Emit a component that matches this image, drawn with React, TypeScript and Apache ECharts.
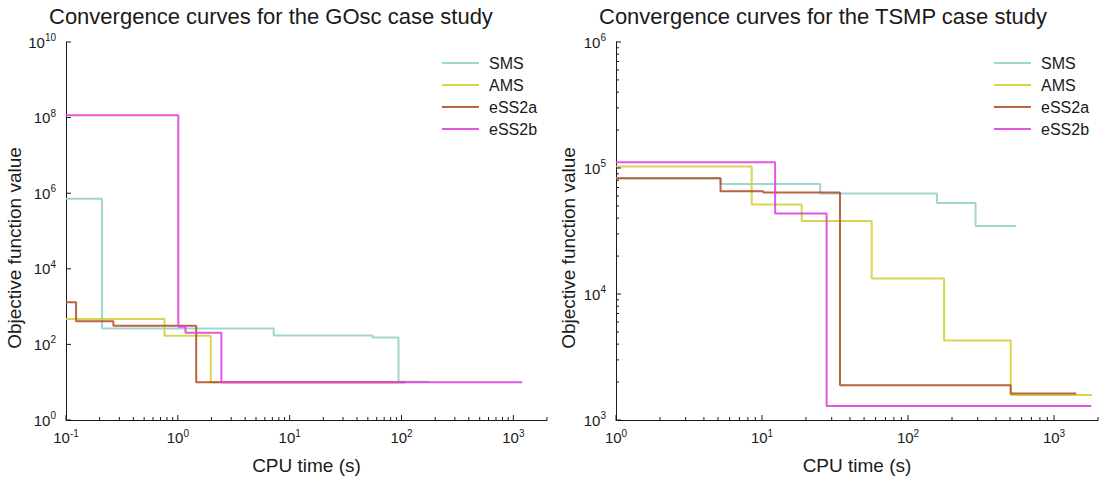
import React, { useEffect, useRef } from 'react';
import * as echarts from 'echarts';

// ---- Data ----
const seriesNames = ['SMS', 'AMS', 'eSS2a', 'eSS2b'];
const seriesColors = ['#93d2c9', '#d4d23e', '#b3532d', '#de45de'];

const titles = ['Convergence curves for the GOsc case study', 'Convergence curves for the TSMP case study'];
const xAxisName = 'CPU time (s)';
const yAxisName = 'Objective function value';

// GOsc case study
const goscSmsX = [0.1, 0.21, 7.2, 55, 94, 177];
const goscSmsY = [7.1e5, 263, 173, 153, 10.3, 10.3];
const goscAmsX = [0.1, 0.76, 1.97, 100];
const goscAmsY = [470, 170, 10, 10];
const goscEss2aX = [0.1, 0.123, 0.265, 1.46, 110];
const goscEss2aY = [1300, 410, 310, 10, 10];
const goscEss2bX = [0.1, 1.01, 1.17, 2.45, 1200];
const goscEss2bY = [1.15e8, 293, 203, 10, 10];

// TSMP case study
const tsmpSmsX = [1, 5.2, 25, 158, 290, 550];
const tsmpSmsY = [83000, 74600, 62700, 52800, 34600, 34600];
const tsmpAmsX = [1, 8.5, 18.7, 56.4, 176.5, 505, 1820];
const tsmpAmsY = [103000, 51400, 38000, 13300, 4270, 1580, 1580];
const tsmpEss2aX = [1, 5.2, 10.2, 34.2, 505, 1420];
const tsmpEss2aY = [83000, 65500, 64000, 1890, 1620, 1620];
const tsmpEss2bX = [1, 12.3, 27.7, 1800];
const tsmpEss2bY = [111000, 43600, 1290, 1290];

// Axis ranges
const goscXRange = [0.1, 2000];
const goscYRange = [1, 1e10];
const tsmpXRange = [1, 2000];
const tsmpYRange = [1000, 1e6];

const FONT = '"Liberation Sans", Arial, Helvetica, sans-serif';
const INK = '#1a1a1a';

function zip(xs: number[], ys: number[]) {
  return xs.map((x, i) => [x, ys[i]]);
}

function decadeTicks(min: number, max: number, withMinor: boolean, majorStep: number) {
  const out: number[][] = [];
  const lo = Math.floor(Math.log10(min));
  const hi = Math.ceil(Math.log10(max));
  for (let e = lo; e <= hi; e++) {
    const base = Math.pow(10, e);
    if (base >= min * 0.999 && base <= max * 1.001 && ((e - lo) % majorStep === 0)) out.push([base, 5]);
    if (withMinor) {
      for (let m = 2; m <= 9; m++) {
        const v = m * base;
        if (v >= min * 0.999 && v <= max * 1.001) out.push([v, 3]);
      }
    }
  }
  return out;
}

function tickSeries(idx: number, xr: number[], yr: number[], xTicks: number[][], yTicks: number[][]) {
  return {
    type: 'custom',
    name: 'ticks' + idx,
    xAxisIndex: idx,
    yAxisIndex: idx,
    silent: true,
    clip: false,
    z: 5,
    data: [
      ...xTicks.map((t) => [t[0], yr[0], 0, t[1]]),
      ...yTicks.map((t) => [xr[0], t[0], 1, t[1]]),
    ],
    renderItem: (params: any, api: any) => {
      const p = api.coord([api.value(0), api.value(1)]);
      const dir = api.value(2);
      const len = api.value(3);
      const shape = dir === 0
        ? { x1: p[0], y1: p[1], x2: p[0], y2: p[1] - len }
        : { x1: p[0], y1: p[1], x2: p[0] + len, y2: p[1] };
      return { type: 'line', shape, style: { stroke: INK, lineWidth: 1 } };
    },
  };
}

function powLabel(v: number) {
  const l = Math.log10(v);
  const e = Math.round(l);
  if (Math.abs(l - e) > 1e-6) return '';
  return '{b|10}{s|' + e + '}';
}

const labelRich = {
  b: { fontSize: 15, color: INK, fontFamily: FONT },
  s: { fontSize: 10, color: INK, fontFamily: FONT, padding: [0, 0, 9, 0] },
};

function makeXAxis(idx: number, r: number[]) {
  return {
    type: 'log',
    gridIndex: idx,
    min: r[0],
    max: r[1],
    logBase: 10,
    name: xAxisName,
    nameLocation: 'middle',
    nameGap: 36,
    nameTextStyle: { fontSize: 19, color: INK, fontFamily: FONT },
    axisLine: { show: true, lineStyle: { color: INK, width: 1 } },
    axisTick: { show: false },
    splitLine: { show: false },
    minorTick: { show: false },
    axisLabel: { formatter: powLabel, rich: labelRich, margin: 8, showMaxLabel: false },
  };
}

function makeYAxis(idx: number, r: number[], base: number, gap: number) {
  return {
    type: 'log',
    gridIndex: idx,
    min: r[0],
    max: r[1],
    logBase: base,
    name: yAxisName,
    nameLocation: 'middle',
    nameGap: gap,
    nameTextStyle: { fontSize: 19, color: INK, fontFamily: FONT, padding: [0, 34, 0, 0] },
    axisLine: { show: true, lineStyle: { color: INK, width: 1 } },
    axisTick: { show: false },
    splitLine: { show: false },
    axisLabel: { formatter: powLabel, rich: labelRich, margin: 10 },
  };
}

function lineSeries(name: string, color: string, idx: number, data: number[][]) {
  return {
    type: 'line',
    name,
    xAxisIndex: idx,
    yAxisIndex: idx,
    step: 'end',
    symbol: 'none',
    data,
    color,
    lineStyle: { color, width: 2, opacity: 0.9 },
    z: 3,
  };
}

export default function App() {
  const ref = useRef<HTMLDivElement>(null);
  useEffect(() => {
    document.body.style.margin = '0';
    if (!ref.current) return;
    const chart = echarts.init(ref.current, undefined, { renderer: 'svg' });
    const goscData = [zip(goscSmsX, goscSmsY), zip(goscAmsX, goscAmsY), zip(goscEss2aX, goscEss2aY), zip(goscEss2bX, goscEss2bY)];
    const tsmpData = [zip(tsmpSmsX, tsmpSmsY), zip(tsmpAmsX, tsmpAmsY), zip(tsmpEss2aX, tsmpEss2aY), zip(tsmpEss2bX, tsmpEss2bY)];
    const legendCommon = {
      data: seriesNames,
      orient: 'vertical',
      top: 50,
      itemWidth: 37,
      itemHeight: 12,
      itemGap: 6,
      selectedMode: false,
      itemStyle: { opacity: 0 },
      textStyle: { fontSize: 16, color: INK, fontFamily: FONT, padding: [0, 0, 0, 5] },
    };
    chart.setOption({
      animation: false,
      backgroundColor: '#ffffff',
      textStyle: { fontFamily: FONT },
      title: [
        { text: titles[0], left: 44, top: 0, textStyle: { fontSize: 22, fontWeight: 'normal', color: INK, fontFamily: FONT } },
        { text: titles[1], left: 594, top: 0, textStyle: { fontSize: 22, fontWeight: 'normal', color: INK, fontFamily: FONT } },
      ],
      legend: [
        { ...legendCommon, left: 436 },
        { ...legendCommon, left: 988 },
      ],
      grid: [
        { left: 66, top: 42, width: 481, height: 380 },
        { left: 616, top: 42, width: 482, height: 380 },
      ],
      xAxis: [makeXAxis(0, goscXRange), makeXAxis(1, tsmpXRange)],
      yAxis: [makeYAxis(0, goscYRange, 100, 40), makeYAxis(1, tsmpYRange, 10, 38)],
      series: [
        ...seriesNames.map((n, i) => lineSeries(n, seriesColors[i], 0, goscData[i])),
        ...seriesNames.map((n, i) => lineSeries(n, seriesColors[i], 1, tsmpData[i])),
        tickSeries(0, goscXRange, goscYRange, decadeTicks(goscXRange[0], goscXRange[1], true, 1), decadeTicks(goscYRange[0], goscYRange[1], false, 2)),
        tickSeries(1, tsmpXRange, tsmpYRange, decadeTicks(tsmpXRange[0], tsmpXRange[1], true, 1), decadeTicks(tsmpYRange[0], tsmpYRange[1], true, 1)),
      ],
    });
    return () => chart.dispose();
  }, []);
  return <div ref={ref} style={{ width: 1103, height: 480 }} />;
}
